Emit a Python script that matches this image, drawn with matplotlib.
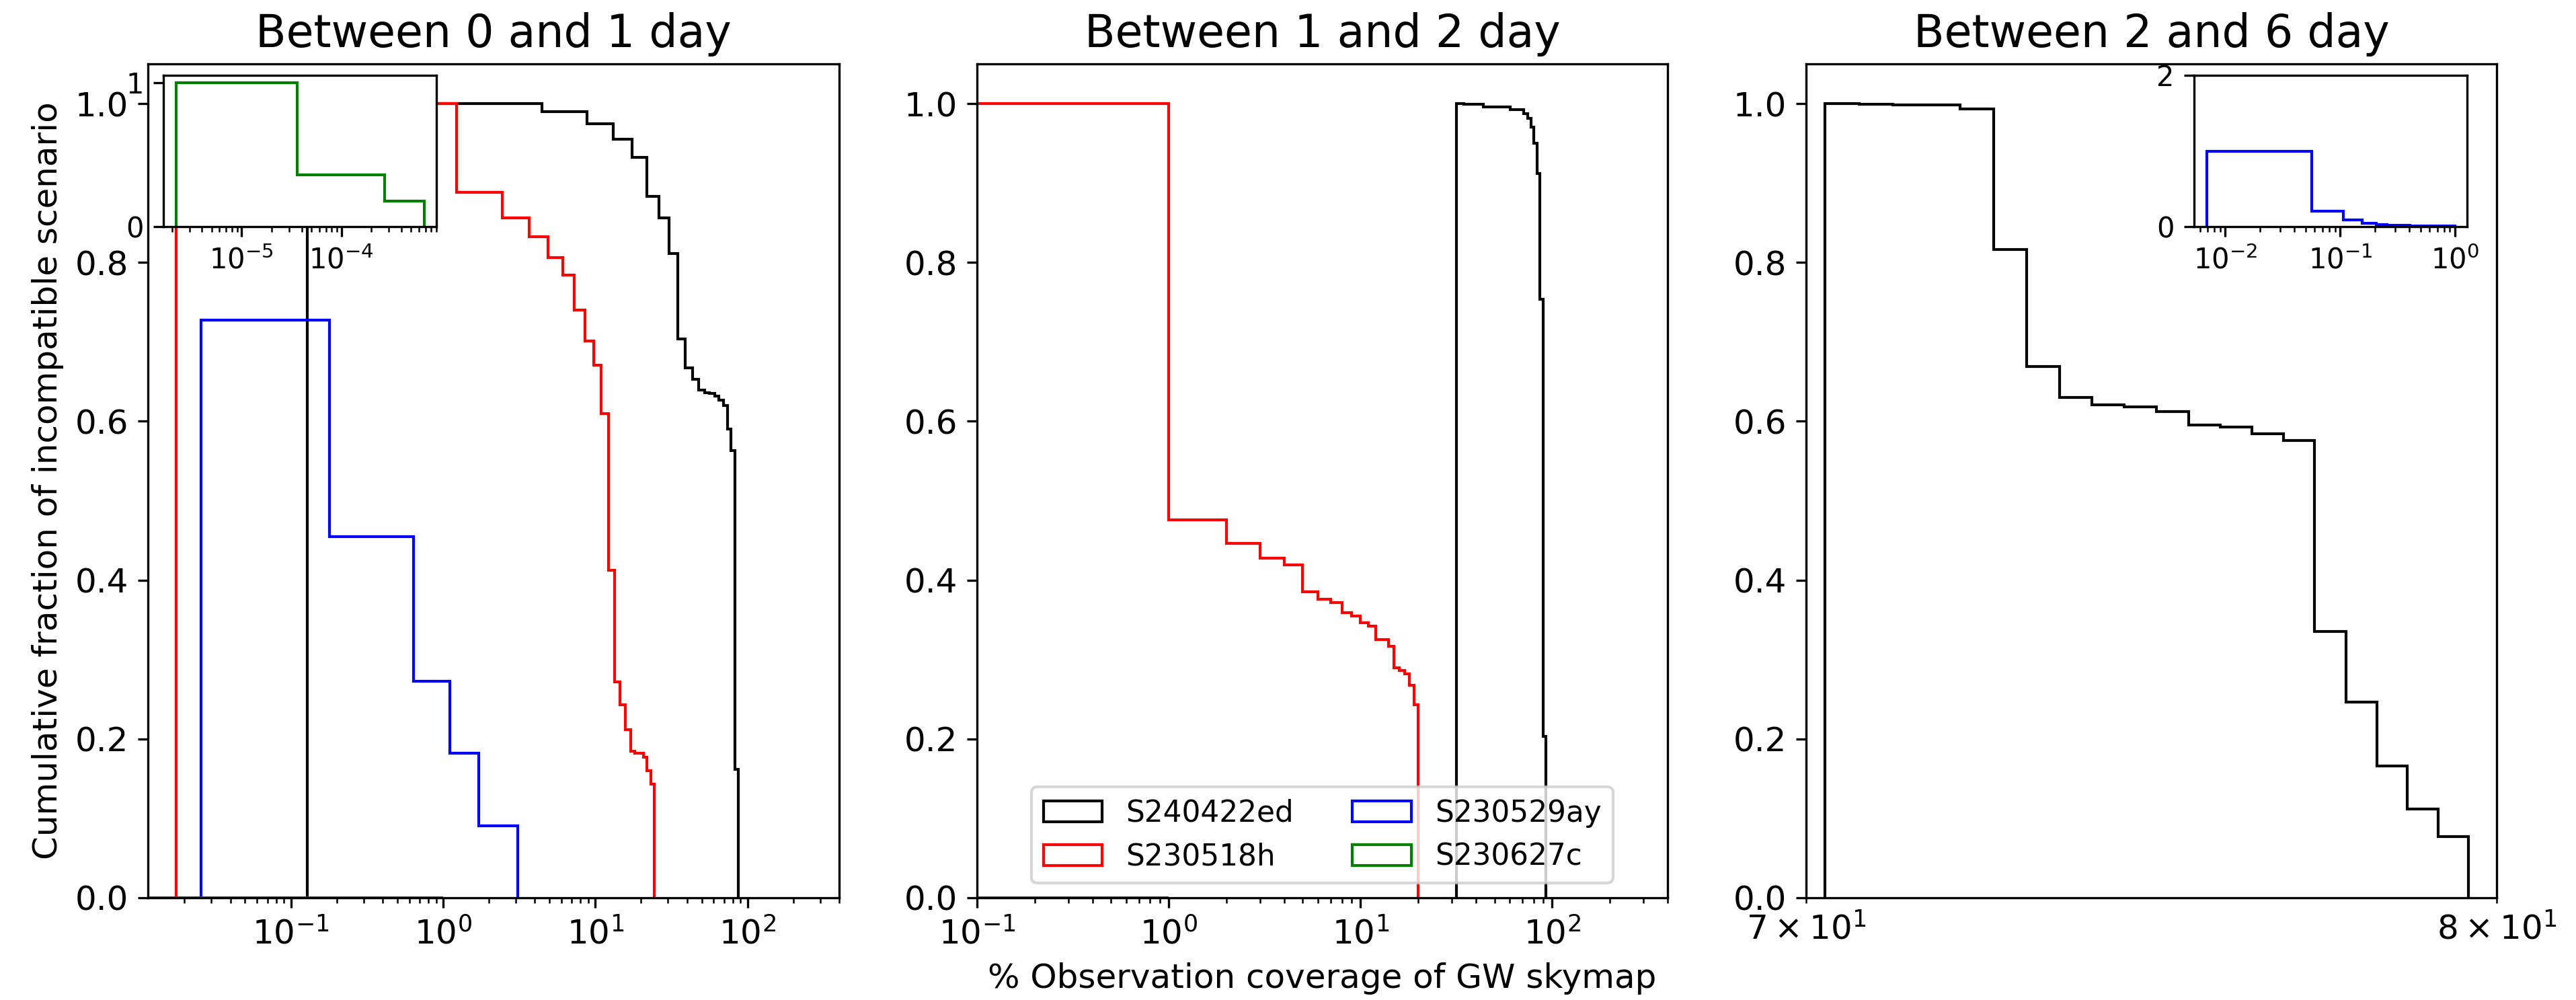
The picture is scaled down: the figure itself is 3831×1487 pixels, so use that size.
import matplotlib
matplotlib.use("Agg")
import matplotlib.pyplot as plt
from matplotlib.patches import Patch

names = ["S240422ed", "S230518h", "S230529ay", "S230627c"]
colors = ["black", "red", "blue", "green"]
titles = ["Between 0 and 1 day", "Between 1 and 2 day", "Between 2 and 6 day"]

# ---- between 0 and 1 day (cumulative step histograms)
d1_black_edges = [0.128, 4.457, 8.785, 13.11, 17.44, 21.77, 26.10, 30.43, 34.76, 39.09, 43.41,
                  47.74, 52.07, 56.40, 60.73, 65.06, 69.39, 73.72, 78.05, 82.37, 86.70]
d1_black_vals = [1.0, 0.9895, 0.975, 0.955, 0.932, 0.883, 0.856, 0.811, 0.704, 0.667,
                 0.653, 0.639, 0.636, 0.635, 0.632, 0.627, 0.620, 0.590, 0.563, 0.162]

d1_red_edges = [0.0176, 1.232, 2.446, 3.660, 4.874, 6.089, 7.303, 8.517, 9.731, 10.945, 12.159,
                13.373, 14.587, 15.801, 17.015, 18.229, 19.444, 20.658, 21.872, 23.086, 24.30]
d1_red_vals = [1.0, 0.888, 0.856, 0.832, 0.806, 0.784, 0.740, 0.701, 0.671, 0.610,
               0.412, 0.272, 0.243, 0.212, 0.185, 0.182, 0.182, 0.177, 0.160, 0.143]

d1_blue_edges = [0.0257, 0.179, 0.641, 1.102, 1.716, 3.100]
d1_blue_vals = [0.727, 0.4545, 0.2727, 0.1818, 0.0909]

d1_green_edges = [1e-3, 1.0]
d1_green_vals = [0.0]

# inset: S230627c
d1_inset_edges = [2.19e-6, 3.6e-5, 2.73e-4, 6.79e-4]
d1_inset_vals = [1.0, 0.361, 0.179]

# ---- between 1 and 2 day
d2_black_edges = [31.6, 34.65, 43.8, 60.6, 71.25, 74.3, 77.35, 80.4, 83.45, 86.5, 89.55, 92.6]
d2_black_vals = [1.0, 0.9988, 0.996, 0.992, 0.987, 0.981, 0.970, 0.950, 0.912, 0.754, 0.203]

d2_red_edges = [0.05, 1, 2, 3, 4, 5, 6, 7, 8, 9, 10, 11, 12, 13, 14, 15, 16, 17, 18, 19, 20]
d2_red_vals = [1.0, 0.476, 0.446, 0.428, 0.4195, 0.3855, 0.376, 0.372, 0.359, 0.355,
               0.346, 0.342, 0.325, 0.325, 0.3167, 0.290, 0.286, 0.282, 0.268, 0.243]

d2_green_edges = [0.05, 1.0]
d2_green_vals = [0.0]

# ---- between 2 and 6 day
d3_black_edges = [70.255, 70.720, 71.186, 71.651, 72.116, 72.582, 73.047, 73.512, 73.978, 74.443,
                  74.908, 75.373, 75.839, 76.304, 76.769, 77.235, 77.700, 78.165, 78.631, 79.096, 79.561]
d3_black_vals = [1.0, 0.9988, 0.998, 0.998, 0.993, 0.816, 0.669, 0.630, 0.621, 0.618,
                 0.612, 0.595, 0.593, 0.584, 0.576, 0.335, 0.246, 0.166, 0.1115, 0.0774]

# inset: S230529ay
d3_inset_edges = [0.00687, 0.05653, 0.10619, 0.15585, 0.20551, 0.25517, 0.40415, 0.50347, 1.0]
d3_inset_vals = [1.0, 0.201, 0.089, 0.044, 0.027, 0.018, 0.012, 0.009]

W, H = 3831, 1487
fig = plt.figure(figsize=(W / 300, H / 300), dpi=300)

def px_axes(x0, x1, y0, y1):
    # pixel box (top-left origin) -> figure axes
    return fig.add_axes([x0 / W, 1 - y1 / H, (x1 - x0) / W, (y1 - y0) / H])

ax1 = px_axes(220, 1248, 95, 1335)
ax2 = px_axes(1453, 2480, 95, 1335)
ax3 = px_axes(2686, 3713, 95, 1335)
in1 = px_axes(243, 649, 112, 337)
in3 = px_axes(3263, 3669, 112, 337)

ax1.stairs(d1_black_vals, d1_black_edges, color=colors[0], linewidth=1)
ax1.stairs(d1_red_vals, d1_red_edges, color=colors[1], linewidth=1)
ax1.stairs(d1_blue_vals, d1_blue_edges, color=colors[2], linewidth=1)
ax1.stairs(d1_green_vals, d1_green_edges, color=colors[3], linewidth=1)
ax1.set_xscale("log")
ax1.set_xlim(0.0115, 400)

ax2.stairs(d2_black_vals, d2_black_edges, color=colors[0], linewidth=1)
ax2.stairs(d2_red_vals, d2_red_edges, color=colors[1], linewidth=1)
ax2.stairs(d2_green_vals, d2_green_edges, color=colors[3], linewidth=1)
ax2.set_xscale("log")
ax2.set_xlim(0.1, 400)

ax3.stairs(d3_black_vals, d3_black_edges, color=colors[0], linewidth=1)
ax3.set_xscale("log")
ax3.set_xlim(70, 80)

for ax, t in zip([ax1, ax2, ax3], titles):
    ax.set_ylim(0, 1.05)
    ax.set_title(t, fontsize=16)
    ax.tick_params(which="both", labelsize=12)

ax1.set_ylabel("Cumulative fraction of incompatible scenario", fontsize=12)
ax2.set_xlabel("% Observation coverage of GW skymap", fontsize=12)

handles = [Patch(facecolor="none", edgecolor=c, label=n) for n, c in zip(names, colors)]
ax2.legend(handles=handles, loc="lower center", ncol=2, fontsize=10.5)

in1.stairs(d1_inset_vals, d1_inset_edges, color=colors[3], linewidth=1)
in1.set_xscale("log")
in1.set_xlim(1.64e-6, 9.0e-4)
in1.set_ylim(0, 1.05)
in1.set_yticks([0, 1])
in1.set_yticklabels(["0", "1"])

in3.stairs(d3_inset_vals, d3_inset_edges, color=colors[2], linewidth=1)
in3.set_xscale("log")
in3.set_xlim(0.00535, 1.27)
in3.set_ylim(0, 2)
in3.set_yticks([0, 2])
in3.set_yticklabels(["0", "2"])

for ax in [in1, in3]:
    ax.tick_params(which="both", labelsize=10)

fig.savefig("out.png", dpi=300)
